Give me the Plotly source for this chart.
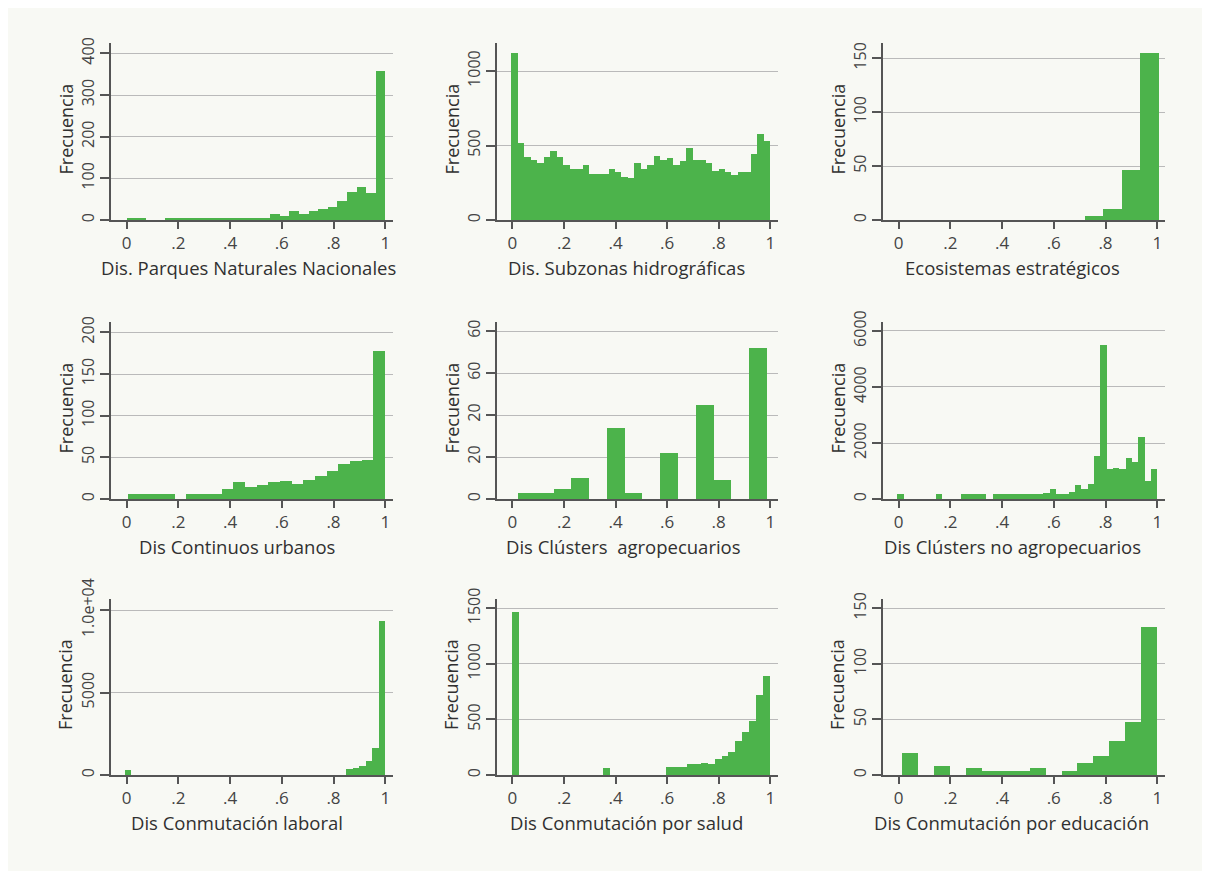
import plotly.graph_objects as go

# ---------------- data ----------------
titles = [
    "Dis. Parques Naturales Nacionales",
    "Dis. Subzonas hidrográficas",
    "Ecosistemas estratégicos",
    "Dis Continuos urbanos",
    "Dis Clústers  agropecuarios",
    "Dis Clústers no agropecuarios",
    "Dis Conmutación laboral",
    "Dis Conmutación por salud",
    "Dis Conmutación por educación",
]

# first bin edge and bin width of each histogram
bin_start = [0.0, -0.004, 0.72, 0.006, 0.022, -0.004, -0.006, 0.0, 0.013]
bin_width = [0.03704, 0.0251, 0.0714, 0.04516, 0.0689, 0.02449, 0.02516, 0.02703, 0.0617]

counts_parques = [6, 6, 0, 0, 6, 6, 6, 6, 6, 6, 6, 6, 3, 6, 6, 14, 10, 22, 14, 22,
                  26, 32, 46, 68, 80, 64, 358]
counts_subzonas = [1120, 515, 425, 400, 380, 425, 460, 425, 370, 345,
                   345, 370, 310, 310, 310, 340, 320, 290, 280, 380,
                   345, 370, 430, 405, 415, 370, 395, 485, 400, 400,
                   385, 330, 345, 320, 305, 320, 325, 440, 575, 530]
counts_ecosistemas = [4, 10, 46, 155]
counts_continuos = [6, 6, 6, 6, 0, 6, 6, 6, 12, 20, 15, 17, 20, 22, 18, 23, 28, 34,
                    42, 46, 47, 178]
counts_agro = [3, 3, 5, 10, 0, 34, 3, 0, 22, 0, 45, 9, 0, 72]
counts_noagro = [167, 0, 0, 0, 0, 0, 167, 0, 0, 0, 167, 167, 167, 167, 0,
                 167, 167, 167, 167, 167, 167, 167, 167, 214, 345, 167, 167,
                 262, 500, 345, 548, 1548, 5500, 1071, 1119, 1071, 1452, 1310,
                 2214, 643, 1071]
counts_laboral = [283, 0, 0, 0, 0, 0, 0, 0, 0, 0, 0, 0, 0, 0, 0, 0, 0, 0, 0, 0,
                  0, 0, 0, 0, 0, 0, 0, 0, 0, 0, 0, 0, 0, 0,
                  343, 424, 525, 828, 1636, 9313]
counts_salud = [1470, 0, 0, 0, 0, 0, 0, 0, 0, 0, 0, 0, 0, 66, 0, 0, 0, 0, 0, 0,
                0, 0, 75, 75, 75, 102, 102, 111, 102, 147, 174, 207, 303, 390,
                483, 723, 891]
counts_educacion = [19.5, 0, 8, 0, 6, 4, 4, 4, 6, 0, 4, 11, 17, 31, 48, 133]

counts = [counts_parques, counts_subzonas, counts_ecosistemas,
          counts_continuos, counts_agro, counts_noagro,
          counts_laboral, counts_salud, counts_educacion]

y_tickvals = [
    [0, 100, 200, 300, 400],
    [0, 500, 1000],
    [0, 50, 100, 150],
    [0, 50, 100, 150, 200],
    [0, 20, 40, 60, 80],
    [0, 2000, 4000, 6000],
    [0, 5000, 10000],
    [0, 500, 1000, 1500],
    [0, 50, 100, 150],
]
y_ticktext = [
    ["0", "100", "200", "300", "400"],
    ["0", "500", "1000"],
    ["0", "50", "100", "150"],
    ["0", "50", "100", "150", "200"],
    ["0", "20", "20", "60", "60"],
    ["0", "2000", "4000", "6000"],
    ["0", "5000", "1.0e+04"],
    ["0", "500", "1000", "1500"],
    ["0", "50", "100", "150"],
]
x_tickvals = [0, 0.2, 0.4, 0.6, 0.8, 1]
x_ticktext = ["0", ".2", ".4", ".6", ".8", "1"]
y_label = "Frecuencia"

# ---------------- layout geometry (page pixels; page body has 8px margin) ----------------
OFF = 8
W, H = 1194, 863
col_px = [(111, 393), (497, 778), (883, 1165)]
row_px = [(43, 220), (322, 499), (599, 775)]
y_tops = [424.8, 1188, 164.2, 212.4, 84.3, 6321, 10667, 1584, 158.4]
xtitle_cx = [248, 626, 1012, 237, 623, 1012, 237, 626, 1011]


def px_x(p):
    return (p - OFF) / W


def px_y(p):
    return 1 - (p - OFF) / H


GREEN = "#4cb34b"
BG = "#f8f9f4"
AXIS = "#555555"
GRID = "#bababa"
TXT = "#303030"
TICK = "#444444"
FONT = "Open Sans"

fig = go.Figure()
annotations = []
layout = dict(
    width=W, height=H, margin=dict(l=0, r=0, t=0, b=0, pad=0, autoexpand=False),
    paper_bgcolor="white", plot_bgcolor=BG, showlegend=False,
    bargap=0, font=dict(family=FONT, color=TXT),
    shapes=[dict(type="rect", xref="paper", yref="paper",
                 x0=0, x1=1, y0=0, y1=1,
                 fillcolor=BG, line=dict(width=0), layer="below")],
)

for i in range(9):
    r, c = divmod(i, 3)
    n = len(counts[i])
    centers = [bin_start[i] + (k + 0.5) * bin_width[i] for k in range(n)]
    xa = "x" if i == 0 else f"x{i+1}"
    ya = "y" if i == 0 else f"y{i+1}"
    fig.add_trace(go.Bar(x=centers, y=counts[i], width=bin_width[i],
                         marker=dict(color=GREEN, line=dict(width=0)),
                         xaxis=xa, yaxis=ya, hoverinfo="skip"))
    xk = "xaxis" if i == 0 else f"xaxis{i+1}"
    yk = "yaxis" if i == 0 else f"yaxis{i+1}"
    x0, x1 = col_px[c]
    t, b = row_px[r]
    layout[xk] = dict(
        domain=[px_x(x0), px_x(x1)], anchor=ya, range=[-0.06, 1.03],
        tickvals=x_tickvals, ticktext=x_ticktext, automargin=False,
        ticks="outside", ticklen=7, tickwidth=1.5, tickcolor=AXIS,
        showline=True, linecolor=AXIS, linewidth=1.5, showgrid=False,
        zeroline=False, tickfont=dict(size=17, color=TICK),
    )
    layout[yk] = dict(
        domain=[px_y(b), px_y(t)], anchor=xa, range=[0, y_tops[i]],
        tickvals=y_tickvals[i], ticktext=y_ticktext[i], tickangle=-90,
        ticks="outside", ticklen=9, tickwidth=1.5, tickcolor=AXIS,
        showline=True, linecolor=AXIS, linewidth=1.5, automargin=False,
        showgrid=True, gridcolor=GRID, gridwidth=1, zeroline=False,
        tickfont=dict(size=16, color=TICK),
    )
    # x-axis title
    annotations.append(dict(
        text=titles[i], xref="paper", yref="paper",
        x=px_x(xtitle_cx[i]), y=px_y(b + 47), xanchor="center", yanchor="middle",
        showarrow=False, font=dict(size=18.5, color=TXT)))
    # y-axis title
    annotations.append(dict(
        text=y_label, xref="paper", yref="paper", textangle=-90,
        x=px_x(x0 - 46), y=px_y((t + b) / 2 - 2), xanchor="center", yanchor="middle",
        showarrow=False, font=dict(size=18, color=TXT)))

layout["annotations"] = annotations
fig.update_layout(**layout)
fig.write_html("out.html")
